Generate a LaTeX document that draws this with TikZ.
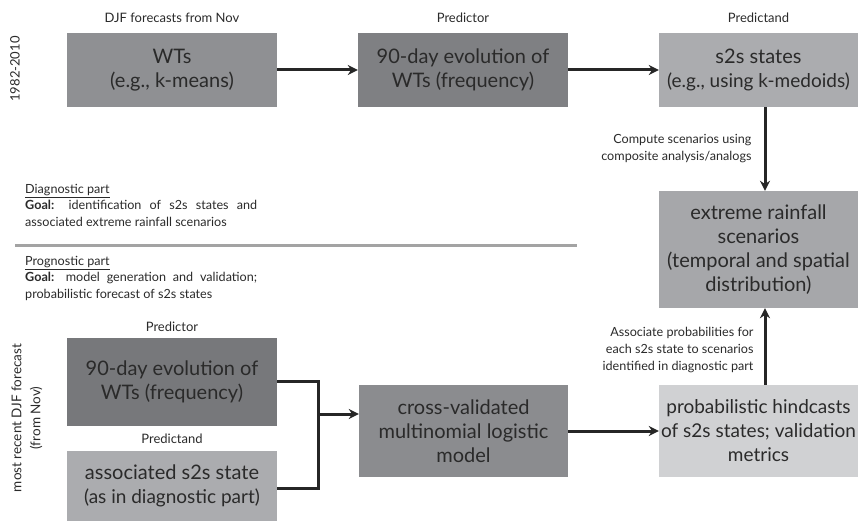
\documentclass[tikz,border=0pt]{standalone}
\usepackage{fontspec}
\setmainfont{Lato}
\usetikzlibrary{arrows.meta,calc}
\definecolor{BoxMid}{HTML}{8F9093}
\definecolor{BoxDark}{HTML}{7F8083}
\definecolor{BoxDarker}{HTML}{77787B}
\definecolor{BoxLight}{HTML}{ABACAF}
\definecolor{BoxPale}{HTML}{D0D1D3}
\definecolor{TxtClr}{HTML}{2A2A2A}
\definecolor{RuleClr}{HTML}{A3A3A3}

\begin{document}
\begin{tikzpicture}[x=1pt,y=-1pt,
  box/.style={fill=#1,text=TxtClr,align=center,inner sep=2pt,
    font=\fontsize{20}{24}\selectfont},
  head/.style={text=TxtClr,font=\fontsize{13}{19}\selectfont},
  note/.style={text=TxtClr,align=right,font=\fontsize{12.6}{16.8}\selectfont},
  goal/.style={text=TxtClr,align=justify,text width=232pt,inner sep=0pt,
    anchor=north west,font=\fontsize{12.6}{16.5}\selectfont},
  link/.style={line width=3pt,black!85},
  arr/.style={link,-{Stealth[length=10pt,width=10pt]}}]
\useasboundingbox (0,0) rectangle (859,521);

% diagnostic part
\node[box=BoxMid,minimum width=210pt,minimum height=74pt] (wts) at (172,70)
  {WTs\\(e.g., k-means)};
\node[box=BoxDark,minimum width=210pt,minimum height=74pt] (evo) at (463,70)
  {90-day evolution of\\WTs (frequency)};
\node[box=BoxLight,minimum width=199pt,minimum height=74pt] (states) at (758.5,70)
  {s2s states\\{\fontsize{19}{24}\selectfont(e.g., using k-medoids)}};
\node[box=BoxLight!97!black,minimum width=199pt,minimum height=117pt] (rain) at (758.5,249.5)
  {extreme rainfall\\scenarios\\(temporal and spatial\\distribution)};

\node[head] (hwts) at (172,18) {DJF forecasts from Nov};
\node[head] (hevo) at (463,18) {Predictor};
\node[head] (hstates) at (758.5,18) {Predictand};
\node[head,rotate=90] (years) at (15,69) {1982-2010};

\draw[arr] (wts) -- (evo);
\draw[arr] (evo) -- (states);
\draw[arr] (states.south -| 765,0) -- (rain.north -| 765,0);
\node[note,anchor=east] (ncomp) at (755,148.5)
  {Compute scenarios using\\composite analysis/analogs};

% goals
\node[goal] (gdiag) at (25,184)
  {\underline{Diagnostic part}\\\textbf{Goal:} identification of s2s states and\linebreak associated extreme rainfall scenarios};
\draw[RuleClr,line width=3pt] (15,246) -- (577,246);
\node[goal] (gprog) at (25,256)
  {\underline{Prognostic part}\\\textbf{Goal:} model generation and validation;\linebreak probabilistic forecast of s2s states};

% prognostic part
\node[head] (hpred) at (172,327) {Predictor};
\node[box=BoxDarker,minimum width=210pt,minimum height=88pt] (pred) at (172,382)
  {90-day evolution of\\WTs (frequency)};
\node[head] (hpand) at (172,439) {Predictand};
\node[box=BoxLight,minimum width=210pt,minimum height=70pt] (assoc) at (172,486)
  {associated s2s state\\{\fontsize{19}{24}\selectfont(as in diagnostic part)}};
\node[box=BoxMid!97!black,minimum width=209pt,minimum height=92pt] (cross) at (463.5,431)
  {cross-validated\\multinomial logistic\\model};
\node[box=BoxPale,minimum width=199pt,minimum height=92pt,font=\fontsize{19}{24}\selectfont] (prob) at (758.5,431)
  {probabilistic hindcasts\\of s2s states; validation\\metrics};
\node[head,rotate=90,align=center,font=\fontsize{13.5}{19}\selectfont] (recent) at (27,418)
  {most recent DJF forecast\\(from Nov)};

\coordinate (jt) at (318,381);
\coordinate (jm) at (318,414);
\coordinate (jb) at (318,488);
\draw[link,line join=miter] (pred.east |- jt) -- (jt) -- (jb) -- (assoc.east |- jb);
\draw[arr] (jm) -- (cross.west |- jm);
\draw[arr] (cross) -- (prob);
\draw[arr] (prob.north -| 765,0) -- (rain.south -| 765,0);
\node[note,anchor=east] (nassoc) at (757,350)
  {Associate probabilities for\\each s2s state to scenarios\\identified in diagnostic part};
\end{tikzpicture}
\end{document}
